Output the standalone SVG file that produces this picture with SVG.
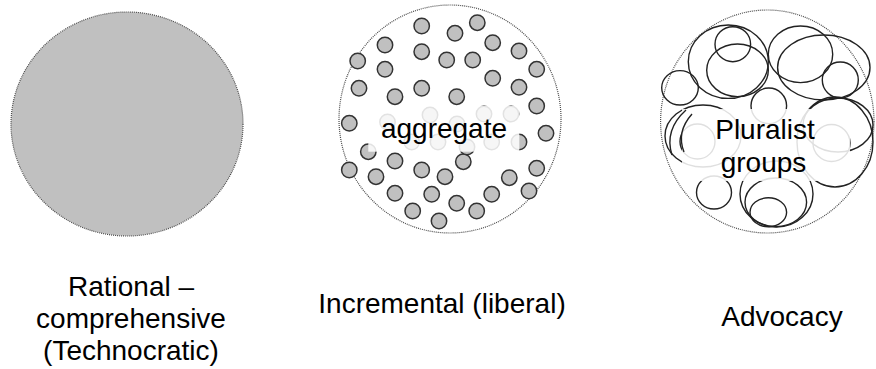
<svg xmlns="http://www.w3.org/2000/svg" width="876" height="369" viewBox="0 0 876 369">
<style>
.outline{fill:none;stroke:#4a4a4a;stroke-width:1.2;stroke-dasharray:1 1}
.dot{fill:#c0c0c0;stroke:#333;stroke-width:1.5}
.grp{fill:none;stroke:#222;stroke-width:1.4}
.veil{fill:#fff;fill-opacity:0.86}
.lbl{font-family:"Liberation Sans",Arial,sans-serif;font-size:28px;fill:#000;text-anchor:middle}
</style>
<rect width="876" height="369" fill="#fff"/>
<g id="rational">
<ellipse cx="127" cy="124" rx="116" ry="112" fill="#c0c0c0" stroke="#4a4a4a" stroke-width="1.2" stroke-dasharray="1 1"/>
<text class="lbl" x="131" y="296">Rational –</text>
<text class="lbl" x="131" y="328">comprehensive</text>
<text class="lbl" x="131" y="360">(Technocratic)</text>
</g>
<g id="incremental">
<ellipse class="outline" cx="450" cy="119" rx="111" ry="114"/>
<g class="dot">
<circle cx="421.7" cy="26" r="7.7"/><circle cx="477.3" cy="22.7" r="7.7"/><circle cx="455" cy="33.3" r="7.7"/>
<circle cx="385" cy="45" r="7.7"/><circle cx="492.7" cy="42.7" r="7.7"/><circle cx="421.7" cy="51.7" r="7.7"/>
<circle cx="519" cy="51" r="7.7"/><circle cx="357.7" cy="61" r="7.7"/><circle cx="446.7" cy="60" r="7.7"/>
<circle cx="472.7" cy="60" r="7.7"/><circle cx="385" cy="69.3" r="7.7"/><circle cx="536.7" cy="69.3" r="7.7"/>
<circle cx="492.7" cy="78.3" r="7.7"/><circle cx="359" cy="88.3" r="7.7"/><circle cx="421.7" cy="88.3" r="7.7"/>
<circle cx="519" cy="87.3" r="7.7"/><circle cx="395" cy="96.7" r="7.7"/><circle cx="456.7" cy="96.7" r="7.7"/>
<circle cx="536.7" cy="106" r="7.7"/><circle cx="349.3" cy="123.3" r="7.7"/><circle cx="546" cy="133.3" r="7.7"/>
<circle cx="368.3" cy="151.7" r="7.7"/><circle cx="395" cy="161" r="7.7"/><circle cx="349.3" cy="170" r="7.7"/>
<circle cx="421.7" cy="170" r="7.7"/><circle cx="463.3" cy="161.7" r="7.7"/><circle cx="445" cy="176.7" r="7.7"/>
<circle cx="536.7" cy="168.3" r="7.7"/><circle cx="376" cy="176.7" r="7.7"/><circle cx="509.3" cy="177.7" r="7.7"/>
<circle cx="395" cy="193.3" r="7.7"/><circle cx="431.7" cy="194.3" r="7.7"/><circle cx="529" cy="191" r="7.7"/>
<circle cx="456.7" cy="203.3" r="7.7"/><circle cx="491.7" cy="194.3" r="7.7"/><circle cx="412.7" cy="211" r="7.7"/>
<circle cx="476.7" cy="211" r="7.7"/><circle cx="439" cy="221" r="7.7"/>
<circle cx="430" cy="115" r="7.7"/><circle cx="484" cy="114" r="7.7"/><circle cx="511" cy="114" r="7.7"/>
<circle cx="387.5" cy="122" r="7.7"/><circle cx="457" cy="124" r="7.7"/><circle cx="411.7" cy="142" r="7.7"/>
<circle cx="438" cy="142" r="7.7"/><circle cx="467" cy="147" r="7.7"/><circle cx="491.7" cy="142" r="7.7"/>
<circle cx="519" cy="142" r="7.7"/>
</g>
<rect class="veil" x="368.3" y="106" width="151" height="45.7"/>
<text class="lbl" x="444" y="137.5">aggregate</text>
<text class="lbl" x="442" y="313">Incremental (liberal)</text>
</g>
<g id="advocacy">
<ellipse class="outline" cx="767.3" cy="121.5" rx="106.7" ry="111.5"/>
<g class="grp">
<ellipse cx="732.8" cy="44.2" rx="17.8" ry="17.5"/>
<ellipse cx="728.3" cy="61.7" rx="40" ry="36.7"/>
<ellipse cx="737.5" cy="70.3" rx="30.8" ry="26.3"/>
<ellipse cx="680" cy="87.8" rx="18.3" ry="17.2"/>
<ellipse cx="800.5" cy="54.3" rx="32.2" ry="28.3"/>
<ellipse cx="823.8" cy="67.5" rx="46.2" ry="32.5"/>
<ellipse cx="840.3" cy="80" rx="18" ry="18"/>
<ellipse cx="768.8" cy="105.8" rx="17.8" ry="17.8"/>
<ellipse cx="835" cy="142" rx="38" ry="45"/>
<ellipse cx="838" cy="125" rx="35" ry="27"/>
<ellipse cx="831.5" cy="143" rx="18.5" ry="18.5"/>
<ellipse cx="703" cy="136" rx="38" ry="31"/>
<ellipse cx="697.5" cy="141.5" rx="17.5" ry="17.5"/>
<ellipse cx="714" cy="192.5" rx="17.5" ry="16.5"/>
<ellipse cx="776.5" cy="194" rx="36.5" ry="33"/>
<ellipse cx="775.8" cy="202.3" rx="30.8" ry="24.3"/>
<ellipse cx="768.3" cy="212.3" rx="18.3" ry="14.5"/>
</g>
<rect class="veil" x="682" y="109" width="168" height="72"/>
<path class="grp" d="M686 110 Q664 130 672 155 M692 114 Q676 132 684 152"/>
<text class="lbl" x="765" y="138.5">Pluralist</text>
<text class="lbl" x="763.5" y="172">groups</text>
<text class="lbl" x="782" y="326">Advocacy</text>
</g>
<g id="connectors"/>
</svg>
